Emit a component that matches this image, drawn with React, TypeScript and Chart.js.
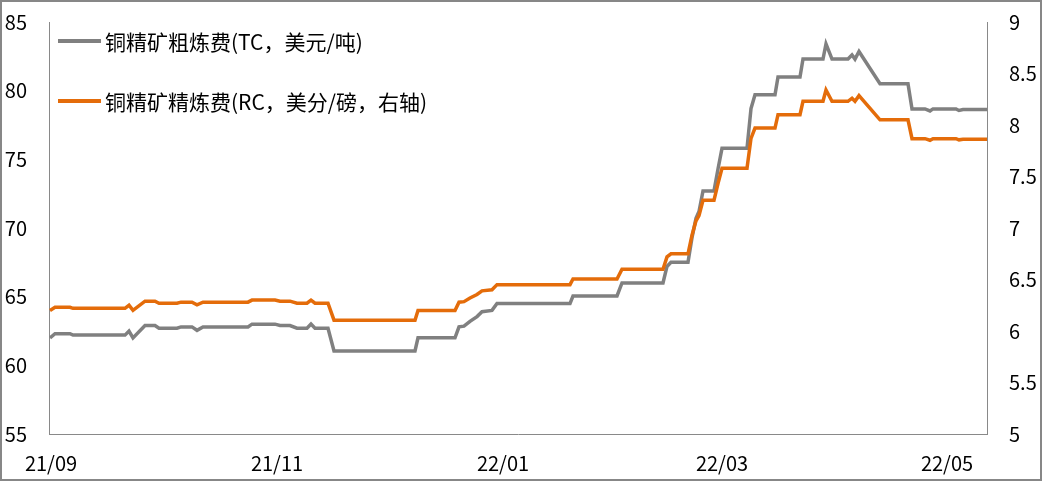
import React, { useEffect, useRef } from 'react';
import { Chart, registerables } from 'chart.js';

Chart.register(...registerables);

// Trading-day index (x) of each observed change point
const dayIndex = [
  0.2, 1.2, 4.2, 4.8, 15.2, 16, 16.8, 19.2, 21.2, 22, 25.6, 26.4, 28.6, 29.6, 30.8,
  39.8, 40.6, 45.2, 46.2, 48.2, 49.6, 51.6, 52.4, 53.2, 55.8, 57, 73.2, 73.8, 81.2,
  82, 83, 84.2, 85.6, 86.6, 88.6, 89.6, 104.2, 104.8, 113.6, 114.6, 122.8, 123.6,
  124.4, 127.8, 128.6, 129.4, 130, 130.8, 133, 133.8, 134.6, 139.6, 140.4, 141.2,
  145.2, 145.8, 150.2, 150.8, 154.8, 155.4, 156.6, 159.8, 160.6, 161.2, 162, 166.2,
  171.8, 172.6, 175.2, 176.2, 176.8, 181.4, 182, 182.8, 187.6,
];

// 铜精矿粗炼费 TC (美元/吨)
const tcValues = [
  62.0, 62.3, 62.3, 62.2, 62.2, 62.5, 62.0, 62.9, 62.9, 62.7, 62.7, 62.8, 62.8, 62.55, 62.8,
  62.8, 63.0, 63.0, 62.9, 62.9, 62.7, 62.7, 63.0, 62.7, 62.7, 61.05, 61.05, 62.0, 62.0,
  62.8, 62.85, 63.2, 63.55, 63.9, 64.0, 64.5, 64.5, 65.05, 65.05, 66.0, 66.0, 67.2,
  67.5, 67.5, 69.3, 70.7, 71.2, 72.7, 72.7, 74.3, 75.8, 75.8, 78.7, 79.7,
  79.7, 81.0, 81.0, 82.3, 82.3, 83.4, 82.3, 82.3, 82.6, 82.3, 82.85, 80.5,
  80.5, 78.67, 78.67, 78.52, 78.67, 78.67, 78.56, 78.62, 78.62,
];

// 铜精矿精炼费 RC (美分/磅)
const rcValues = [
  6.2, 6.23, 6.23, 6.22, 6.22, 6.25, 6.2, 6.29, 6.29, 6.27, 6.27, 6.28, 6.28, 6.255, 6.28,
  6.28, 6.3, 6.3, 6.29, 6.29, 6.27, 6.27, 6.3, 6.27, 6.27, 6.105, 6.105, 6.2, 6.2,
  6.28, 6.285, 6.32, 6.355, 6.39, 6.4, 6.45, 6.45, 6.505, 6.505, 6.6, 6.6, 6.72,
  6.75, 6.75, 6.93, 7.07, 7.12, 7.27, 7.27, 7.43, 7.58, 7.58, 7.87, 7.97,
  7.97, 8.1, 8.1, 8.23, 8.23, 8.34, 8.23, 8.23, 8.26, 8.23, 8.285, 8.05,
  8.05, 7.867, 7.867, 7.852, 7.867, 7.867, 7.856, 7.862, 7.862,
];

const monthTickIndex = [0.4, 45.6, 90.8, 134.6, 179.6];
const monthTickLabels = ['21/09', '21/11', '22/01', '22/03', '22/05'];

const seriesNames = ['铜精矿粗炼费(TC，美元/吨)', '铜精矿精炼费(RC，美分/磅，右轴)'];

const FONT = '"Noto Sans CJK SC", "Microsoft YaHei", sans-serif';

const insideLegend = {
  id: 'insideLegend',
  afterDraw(chart: any) {
    const ctx = chart.ctx;
    const { left, top } = chart.chartArea;
    ctx.save();
    chart.data.datasets.forEach((ds: any, i: number) => {
      const y = top + 19 + i * 60;
      ctx.strokeStyle = ds.borderColor;
      ctx.lineWidth = 4;
      ctx.beginPath();
      ctx.moveTo(left + 9, y);
      ctx.lineTo(left + 52, y);
      ctx.stroke();
      ctx.fillStyle = '#000';
      ctx.font = `21px ${FONT}`;
      ctx.textBaseline = 'middle';
      ctx.textAlign = 'left';
      ctx.fillText(ds.label, left + 56, y + 1);
    });
    ctx.restore();
  },
};

const fixVertical = (w: number) => (scale: any) => {
  scale.width = w;
  scale.paddingTop = 0;
  scale.paddingBottom = 0;
};

export default function App() {
  const canvasRef = useRef<HTMLCanvasElement | null>(null);

  useEffect(() => {
    document.body.style.margin = '0';
    const canvas = canvasRef.current;
    if (!canvas) return;
    const tcData = dayIndex.map((x, i) => ({ x, y: tcValues[i] }));
    const rcData = dayIndex.map((x, i) => ({ x, y: rcValues[i] }));
    const chart = new Chart(canvas, {
      type: 'line',
      data: {
        datasets: [
          {
            label: seriesNames[0],
            data: tcData,
            borderColor: '#808080',
            borderWidth: 3.5,
            pointRadius: 0,
            tension: 0,
            yAxisID: 'y',
            order: 1,
          },
          {
            label: seriesNames[1],
            data: rcData,
            borderColor: '#E46C0A',
            borderWidth: 3.5,
            pointRadius: 0,
            tension: 0,
            yAxisID: 'y1',
            order: 0,
          },
        ],
      },
      options: {
        responsive: false,
        animation: false,
        devicePixelRatio: 1,
        layout: { padding: { top: 20, left: 0, right: 0, bottom: 0 } },
        plugins: {
          legend: { display: false },
          tooltip: { enabled: false },
        },
        scales: {
          x: {
            type: 'linear',
            min: 0,
            max: 187.6,
            grid: { display: false, drawTicks: false },
            border: { display: true, color: '#898989', width: 1 },
            afterBuildTicks: (scale: any) => {
              scale.ticks = monthTickIndex.map((v) => ({ value: v }));
            },
            afterFit: (scale: any) => {
              scale.height = 45;
            },
            ticks: {
              autoSkip: false,
              maxRotation: 0,
              minRotation: 0,
              padding: 17,
              color: '#000',
              font: { family: FONT, size: 20 },
              callback: (v: any) => {
                const idx = monthTickIndex.indexOf(Number(v));
                return idx >= 0 ? monthTickLabels[idx] : '';
              },
            },
          },
          y: {
            position: 'left',
            min: 55,
            max: 85,
            grid: { display: false, drawTicks: false },
            border: { display: true, color: '#898989', width: 1 },
            afterFit: fixVertical(47),
            ticks: {
              stepSize: 5,
              padding: 22,
              color: '#000',
              font: { family: FONT, size: 20 },
            },
          },
          y1: {
            position: 'right',
            min: 5,
            max: 9,
            grid: { display: false, drawTicks: false },
            border: { display: true, color: '#898989', width: 1 },
            afterFit: fixVertical(53),
            ticks: {
              stepSize: 0.5,
              padding: 22,
              color: '#000',
              font: { family: FONT, size: 20 },
              callback: (v: any) => String(Number(v)),
            },
          },
        },
      },
      plugins: [insideLegend],
    });
    return () => chart.destroy();
  }, []);

  return (
    <div
      style={{
        position: 'absolute',
        left: 0,
        top: 0,
        width: 1042,
        height: 481,
        boxSizing: 'border-box',
        border: '2px solid #878787',
        background: '#fff',
      }}
    >
      <canvas ref={canvasRef} width={1038} height={477} style={{ display: 'block', width: 1038, height: 477 }} />
    </div>
  );
}
